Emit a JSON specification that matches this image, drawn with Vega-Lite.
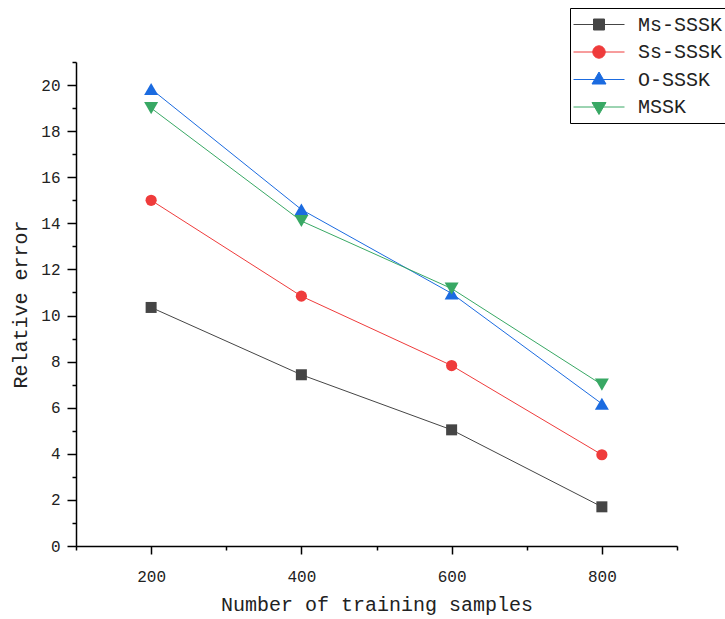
{
  "$schema": "https://vega.github.io/schema/vega-lite/v6.json",
  "width": 601,
  "height": 484,
  "autosize": {"type": "none"},
  "padding": {"left": 76, "top": 62, "right": 48, "bottom": 73},
  "background": "white",
  "config": {
    "view": {"stroke": null},
    "font": "Liberation Mono",
    "axis": {
      "grid": false,
      "domainColor": "black",
      "domainWidth": 1.5,
      "tickColor": "black",
      "tickWidth": 1.5,
      "labelFont": "Liberation Mono",
      "labelColor": "#222",
      "titleFont": "Liberation Mono",
      "titleColor": "#222",
      "titleFontWeight": "normal"
    }
  },
  "data": {
    "values": [
      {"n": 200, "err": 10.35, "series": "Ms-SSSK"},
      {"n": 400, "err": 7.43, "series": "Ms-SSSK"},
      {"n": 600, "err": 5.04, "series": "Ms-SSSK"},
      {"n": 800, "err": 1.7, "series": "Ms-SSSK"},
      {"n": 200, "err": 15.0, "series": "Ss-SSSK"},
      {"n": 400, "err": 10.84, "series": "Ss-SSSK"},
      {"n": 600, "err": 7.83, "series": "Ss-SSSK"},
      {"n": 800, "err": 3.96, "series": "Ss-SSSK"},
      {"n": 200, "err": 19.83, "series": "O-SSSK"},
      {"n": 400, "err": 14.6, "series": "O-SSSK"},
      {"n": 600, "err": 10.96, "series": "O-SSSK"},
      {"n": 800, "err": 6.17, "series": "O-SSSK"},
      {"n": 200, "err": 19.0, "series": "MSSK"},
      {"n": 400, "err": 14.1, "series": "MSSK"},
      {"n": 600, "err": 11.17, "series": "MSSK"},
      {"n": 800, "err": 7.0, "series": "MSSK"}
    ]
  },
  "resolve": {"axis": {"x": "independent", "y": "independent"}},
  "layer": [
    {
      "mark": {"type": "line", "strokeWidth": 1},
      "encoding": {
        "x": {
          "field": "n",
          "type": "quantitative",
          "scale": {"domain": [100, 900], "nice": false, "zero": false},
          "axis": {
            "orient": "bottom",
            "values": [200, 400, 600, 800],
            "tickSize": 8,
            "labelFontSize": 16,
            "labelPadding": 14,
            "title": "Number of training samples",
            "titleFontSize": 20,
            "titlePadding": 10
          }
        },
        "y": {
          "field": "err",
          "type": "quantitative",
          "scale": {"domain": [0, 21], "nice": false},
          "axis": {
            "orient": "left",
            "values": [0, 2, 4, 6, 8, 10, 12, 14, 16, 18, 20],
            "tickSize": 9,
            "labelFontSize": 16,
            "labelPadding": 7,
            "title": "Relative error",
            "titleFontSize": 20,
            "titlePadding": 10
          }
        },
        "color": {
          "field": "series",
          "type": "nominal",
          "scale": {
            "domain": ["Ms-SSSK", "Ss-SSSK", "O-SSSK", "MSSK"],
            "range": ["#454545", "#ef3b3b", "#1b6be0", "#38a864"]
          },
          "legend": {
            "title": null,
            "orient": "none",
            "legendX": 494,
            "legendY": -54,
            "strokeColor": "black",
            "padding": 6,
            "rowPadding": 6.5,
            "symbolSize": 400,
            "symbolOffset": 12.5,
            "symbolStrokeWidth": 1,
            "symbolType": {"expr": "datum.value === 'Ms-SSSK' ? 'M-2.55,0H2.55M-0.55,-0.55H0.55V0.55H-0.55Z' : datum.value === 'Ss-SSSK' ? 'M-2.55,0H2.55M0.62,0A0.62,0.62,0,1,1,-0.62,0A0.62,0.62,0,1,1,0.62,0Z' : datum.value === 'O-SSSK' ? 'M-2.55,0H2.55M0,-0.75L0.7,0.45H-0.7Z' : 'M-2.55,0H2.55M0,0.75L0.7,-0.45H-0.7Z'"},
            "symbolFillColor": {"expr": "scale('color', datum.value)"},
            "symbolStrokeColor": {"expr": "scale('color', datum.value)"},
            "labelOffset": 28.5,
            "labelFont": "Liberation Mono",
            "labelFontSize": 20,
            "labelColor": "#222"
          }
        }
      }
    },
    {
      "transform": [{"filter": "datum.series === 'Ms-SSSK'"}],
      "mark": {"type": "point", "filled": true, "opacity": 1, "shape": "square", "size": 121},
      "encoding": {
        "x": {"field": "n", "type": "quantitative", "axis": null},
        "y": {"field": "err", "type": "quantitative", "axis": null},
        "color": {"field": "series", "type": "nominal", "legend": null}
      }
    },
    {
      "transform": [{"filter": "datum.series === 'Ss-SSSK'"}],
      "mark": {"type": "point", "filled": true, "opacity": 1, "shape": "circle", "size": 125},
      "encoding": {
        "x": {"field": "n", "type": "quantitative", "axis": null},
        "y": {"field": "err", "type": "quantitative", "axis": null},
        "color": {"field": "series", "type": "nominal", "legend": null}
      }
    },
    {
      "transform": [{"filter": "datum.series === 'O-SSSK'"}],
      "mark": {"type": "point", "filled": true, "opacity": 1, "shape": "triangle-up", "size": 196},
      "encoding": {
        "x": {"field": "n", "type": "quantitative", "axis": null},
        "y": {"field": "err", "type": "quantitative", "axis": null},
        "color": {"field": "series", "type": "nominal", "legend": null}
      }
    },
    {
      "transform": [{"filter": "datum.series === 'MSSK'"}],
      "mark": {"type": "point", "filled": true, "opacity": 1, "shape": "triangle-down", "size": 196},
      "encoding": {
        "x": {"field": "n", "type": "quantitative", "axis": null},
        "y": {"field": "err", "type": "quantitative", "axis": null},
        "color": {"field": "series", "type": "nominal", "legend": null}
      }
    },
    {
      "mark": {"type": "point", "opacity": 0},
      "encoding": {
        "x": {
          "field": "n",
          "type": "quantitative",
          "axis": {
            "orient": "bottom",
            "values": [100, 300, 500, 700, 900],
            "tickSize": 4,
            "labels": false,
            "domain": false,
            "title": null
          }
        },
        "y": {
          "field": "err",
          "type": "quantitative",
          "axis": {
            "orient": "left",
            "values": [1, 3, 5, 7, 9, 11, 13, 15, 17, 19, 21],
            "tickSize": 4,
            "labels": false,
            "domain": false,
            "title": null
          }
        }
      }
    }
  ]
}
